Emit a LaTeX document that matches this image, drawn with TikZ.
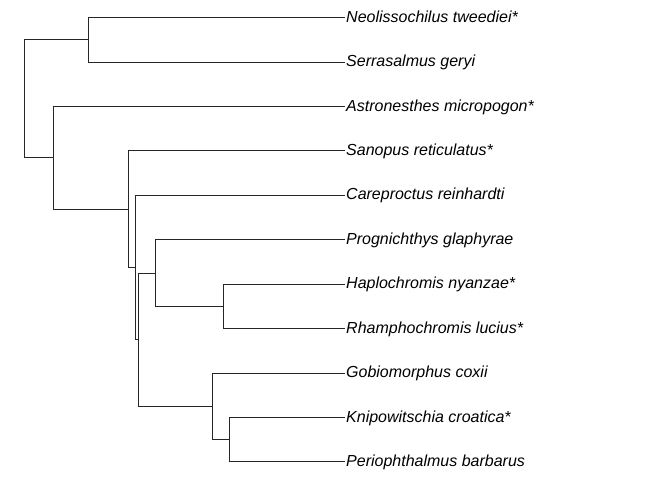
\documentclass[tikz,border=0pt]{standalone}
\usepackage{fontspec}
\setmainfont{Liberation Sans}
\usetikzlibrary{positioning,calc}
\tikzset{
  tip/.style={anchor=west,inner sep=1pt,text height=9.5pt,text depth=0pt,
    font=\itshape\fontsize{16}{18}\selectfont},
  branch/.style={draw=black!85,line width=0.8pt}
}

\begin{document}
\begin{tikzpicture}[x=1pt,y=-1pt]
    \useasboundingbox (0,0) rectangle (672,480);
    % tips
    \node (neo) [tip] at (345,17.5) {Neolissochilus tweediei*};
    \node (ser) [tip] at (345,61.9) {Serrasalmus geryi};
    \node (ast) [tip] at (345,106.3) {Astronesthes micropogon*};
    \node (san) [tip] at (345,150.7) {Sanopus reticulatus*};
    \node (car) [tip] at (345,195.2) {Careproctus reinhardti};
    \node (pro) [tip] at (345,239.6) {Prognichthys glaphyrae};
    \node (hap) [tip] at (345,284.0) {Haplochromis nyanzae*};
    \node (rha) [tip] at (345,328.4) {Rhamphochromis lucius*};
    \node (gob) [tip] at (345,372.9) {Gobiomorphus coxii};
    \node (kni) [tip] at (345,417.3) {Knipowitschia croatica*};
    \node (per) [tip] at (345,461.7) {Periophthalmus barbarus};
    % inner nodes
    \coordinate (root) at (24.7,98.6);
    \coordinate (cA) at (88.7,39.7);
    \coordinate (cB) at (53,157.6);
    \coordinate (cC) at (128.3,209);
    \coordinate (cD) at (135.7,267.3);
    \coordinate (cE) at (138.7,339.5);
    \coordinate (cF) at (155.7,272.9);
    \coordinate (cH) at (223.5,306.2);
    \coordinate (cG) at (212,406.2);
    \coordinate (cI) at (229,439.5);
    \draw [branch] (root) |- (cA) (root) |- (cB);
    \draw [branch] (cA) |- (neo) (cA) |- (ser);
    \draw [branch] (cB) |- (ast) (cB) |- (cC);
    \draw [branch] (cC) |- (san) (cC) |- (cD);
    \draw [branch] (cD) |- (car) (cD) |- (cE);
    \draw [branch] (cE) |- (cF) (cE) |- (cG);
    \draw [branch] (cF) |- (pro) (cF) |- (cH);
    \draw [branch] (cH) |- (hap) (cH) |- (rha);
    \draw [branch] (cG) |- (gob) (cG) |- (cI);
    \draw [branch] (cI) |- (kni) (cI) |- (per);
  \end{tikzpicture}
\end{document}
